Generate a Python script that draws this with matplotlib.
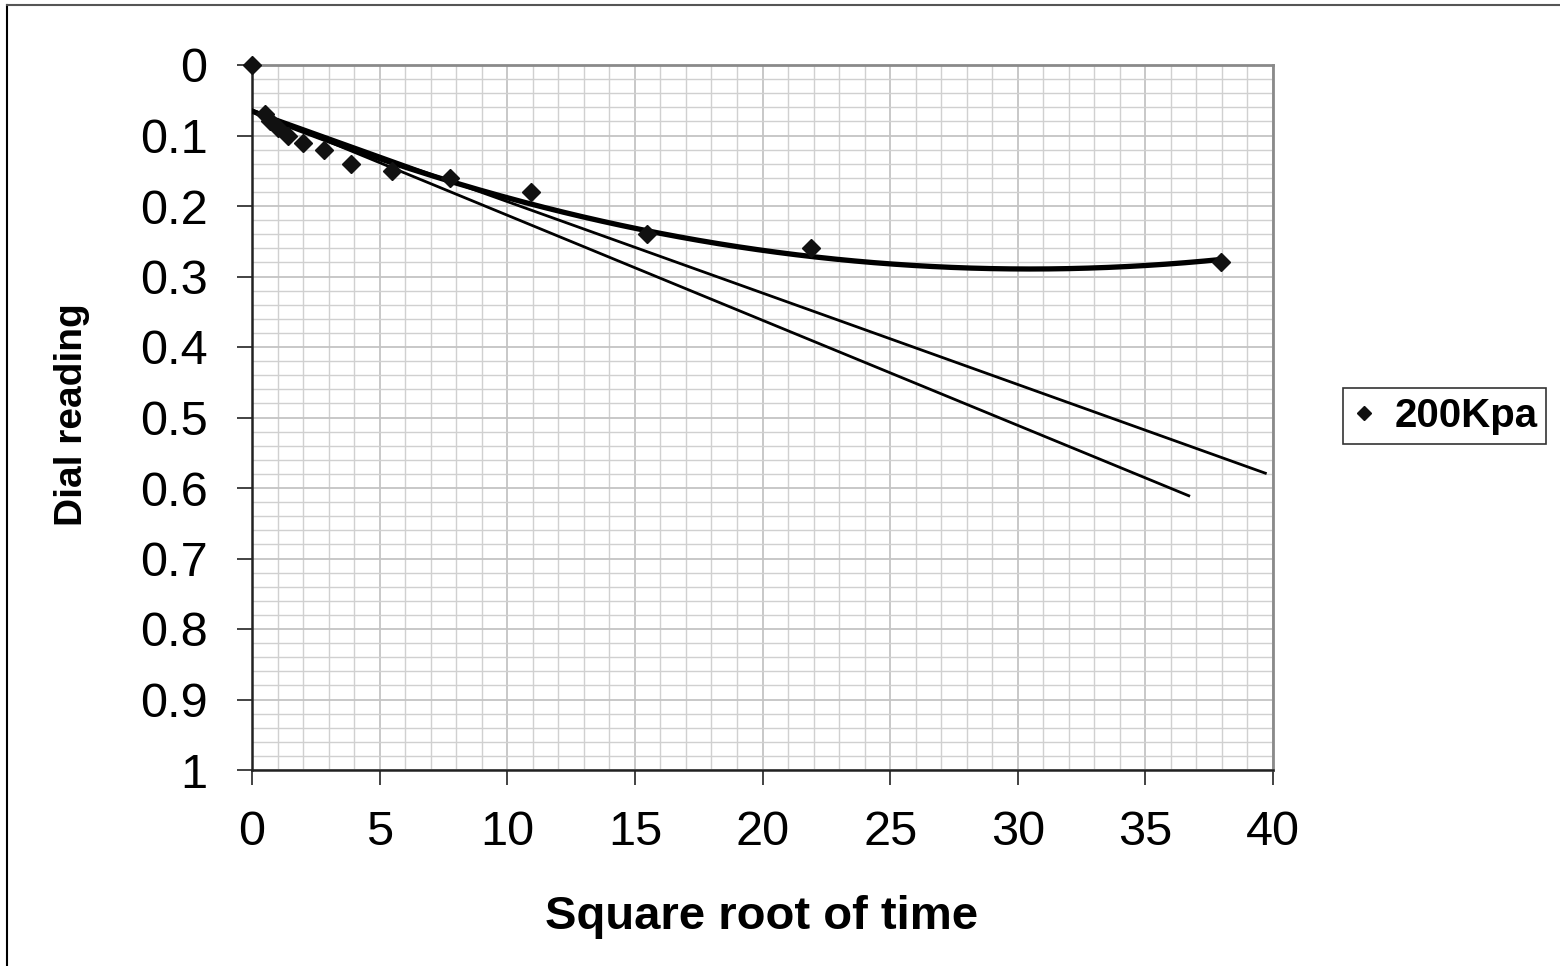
#%%
import numpy as np
import matplotlib
matplotlib.use('Agg')
import matplotlib.pyplot as plt
from matplotlib.ticker import MultipleLocator, FuncFormatter
from matplotlib.lines import Line2D

plt.rcParams['font.family'] = ['Liberation Sans', 'DejaVu Sans']

#%% Data
sqrt_time = [0, 0.5, 0.71, 1.0, 1.41, 2.0, 2.83, 3.87, 5.48, 7.75, 10.95, 15.49, 21.91, 37.95]
dial = [0, 0.07, 0.08, 0.09, 0.10, 0.11, 0.12, 0.14, 0.15, 0.16, 0.18, 0.24, 0.26, 0.28]

# construction lines (Taylor method)
line1_x = [0, 36.7]
line1_y = [0.064, 0.611]
line2_x = [0, 39.7]
line2_y = [0.064, 0.579]

x_ticks = [0, 5, 10, 15, 20, 25, 30, 35, 40]
y_ticks = [0, 0.1, 0.2, 0.3, 0.4, 0.5, 0.6, 0.7, 0.8, 0.9, 1]

#%% 2nd order trendline like Excel
coef = np.polyfit(sqrt_time, dial, 2)
xs = np.linspace(0, max(sqrt_time), 300)
ys = np.polyval(coef, xs)

#%%
fig = plt.figure(figsize=(15.6, 9.66), dpi=100)
ax = fig.add_axes([252/1560, 1 - 770/966, (1273 - 252)/1560, (770 - 65)/966])

ax.plot(xs, ys, color='black', lw=3.8, zorder=3)
ax.plot(line1_x, line1_y, color='black', lw=2.0, zorder=3)
ax.plot(line2_x, line2_y, color='black', lw=2.0, zorder=3)
ax.plot(sqrt_time, dial, 'D', color='#111111', ms=9, zorder=4, clip_on=False,
        label='200Kpa')

ax.set_xlim(0, 40)
ax.set_ylim(1, 0)
ax.set_xticks(x_ticks)
ax.set_yticks(y_ticks)
ax.yaxis.set_major_formatter(FuncFormatter(lambda v, p: '%g' % v))
ax.xaxis.set_minor_locator(MultipleLocator(1))
ax.yaxis.set_minor_locator(MultipleLocator(0.02))

ax.grid(which='minor', color='#d0d0d0', lw=1.0, zorder=0)
ax.grid(which='major', color='#c4c4c4', lw=1.3, zorder=0)
ax.set_axisbelow(True)

ax.tick_params(which='major', length=11, width=1.2, color='#222222',
               labelsize=35, direction='out')
ax.tick_params(axis='y', pad=21)
ax.tick_params(axis='x', pad=18)
ax.tick_params(which='minor', length=0)

for s in ['left', 'bottom']:
    ax.spines[s].set_color('#222222')
    ax.spines[s].set_linewidth(1.8)
for s in ['top', 'right']:
    ax.spines[s].set_color('#8a8a8a')
    ax.spines[s].set_linewidth(2.0)

fig.text(762/1560, 1 - 929/966, 'Square root of time', fontsize=34,
         fontweight='bold', ha='center', va='baseline')
fig.text(82/1560, 1 - 415/966, 'Dial reading', fontsize=28, fontweight='bold',
         rotation=90, rotation_mode='anchor', ha='center', va='baseline')

leg = ax.legend(loc='center left', bbox_to_anchor=(1343/1560, 1 - 416/966),
                bbox_transform=fig.transFigure, fancybox=False, frameon=True,
                edgecolor='black', prop={'weight': 'bold', 'size': 29},
                markerscale=0.75, handlelength=0.6, handletextpad=0.45,
                borderpad=0.22, borderaxespad=0)
leg.get_frame().set_linewidth(1.2)

# outer chart border (left and top visible)
fig.add_artist(Line2D([7/1560, 7/1560], [0, 1 - 5/966], color='black', lw=1.5))
fig.add_artist(Line2D([7/1560, 1], [1 - 5/966, 1 - 5/966], color='#555555', lw=1.5))

fig.savefig('out.png', dpi=100)
